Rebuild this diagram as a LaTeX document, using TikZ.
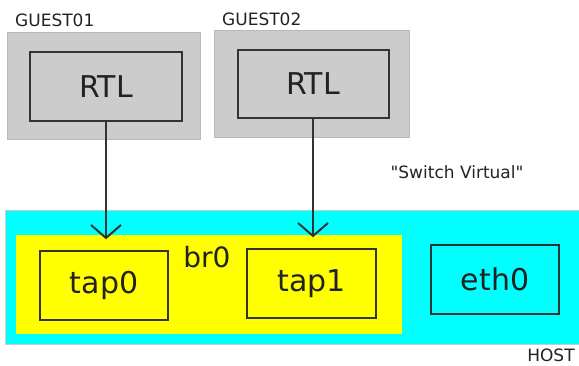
\documentclass[tikz,border=0pt]{standalone}
\usepackage{fontspec}
\setmainfont{DejaVu Sans}
\usetikzlibrary{arrows.meta}
\definecolor{guestgray}{HTML}{CCCCCC}
\definecolor{lineg}{HTML}{333333}
\definecolor{txt}{HTML}{222222}
\definecolor{hostcyan}{HTML}{00FFFF}
\definecolor{bryellow}{HTML}{FFFF00}
\newcommand{\sq}{\XeTeXglyph\XeTeXcharglyph"22\relax}
\begin{document}
\begin{tikzpicture}[x=1pt,y=-1pt,
  guestbox/.style={fill=guestgray, draw=guestgray!90!black, line width=0.8pt, inner sep=0pt, minimum width=193pt, minimum height=107pt},
  rtlbox/.style={draw=lineg, line width=2pt, inner sep=0pt, minimum width=152pt, minimum height=69pt, font=\fontsize{30}{36}\selectfont, text=txt},
  ifbox/.style={draw=lineg, line width=1.4pt, inner sep=0pt, minimum width=128pt, minimum height=69pt, font=\fontsize{30}{36}\selectfont, text=txt},
  smalllabel/.style={font=\fontsize{17}{20}\selectfont, text=txt, inner sep=0pt},
  link/.style={draw=lineg, line width=2pt, -{Straight Barb[length=13pt,width=30pt,line width=2pt]}}
]
\useasboundingbox (0,0) rectangle (579,366);
% host and bridge
\node[fill=hostcyan, draw=gray!40, line width=0.8pt, inner sep=0pt, minimum width=574pt, minimum height=134pt] (host) at (292,277) {};
\node[fill=bryellow, inner sep=0pt, minimum width=386pt, minimum height=99pt] (br) at (209,284.5) {};
% guests
\node[guestbox] (g1) at (103.5,85.5) {};
\node[guestbox, minimum width=195pt] (g2) at (311.5,83.5) {};
\node[rtlbox] (rtl1) at (106,86.5) {RTL};
\node[rtlbox, minimum width=151pt, minimum height=68pt] (rtl2) at (313,84) {RTL};
% interfaces
\node[ifbox] (tap0) at (104,285.5) {tap0};
\node[ifbox, minimum width=129pt] (tap1) at (311.5,283.5) {tap1};
\node[ifbox] (eth0) at (495,279.5) {eth0};
% labels
\node[smalllabel, anchor=west] (l1) at (15,20) {GUEST01};
\node[smalllabel, anchor=west] (l2) at (222,19) {GUEST02};
\node[smalllabel] (sw) at (457,172) {\sq Switch Virtual\sq};
\node[smalllabel] (hl) at (551,355) {HOST};
\node[font=\fontsize{28}{34}\selectfont, text=txt, inner sep=0pt] (brl) at (207,257) {br0};
% connectors
\draw[link, shorten >=11pt] (rtl1.south) -- (rtl1.south |- tap0.north);
\draw[link, shorten >=11pt] (rtl2.south) -- (rtl2.south |- tap1.north);
\end{tikzpicture}
\end{document}
